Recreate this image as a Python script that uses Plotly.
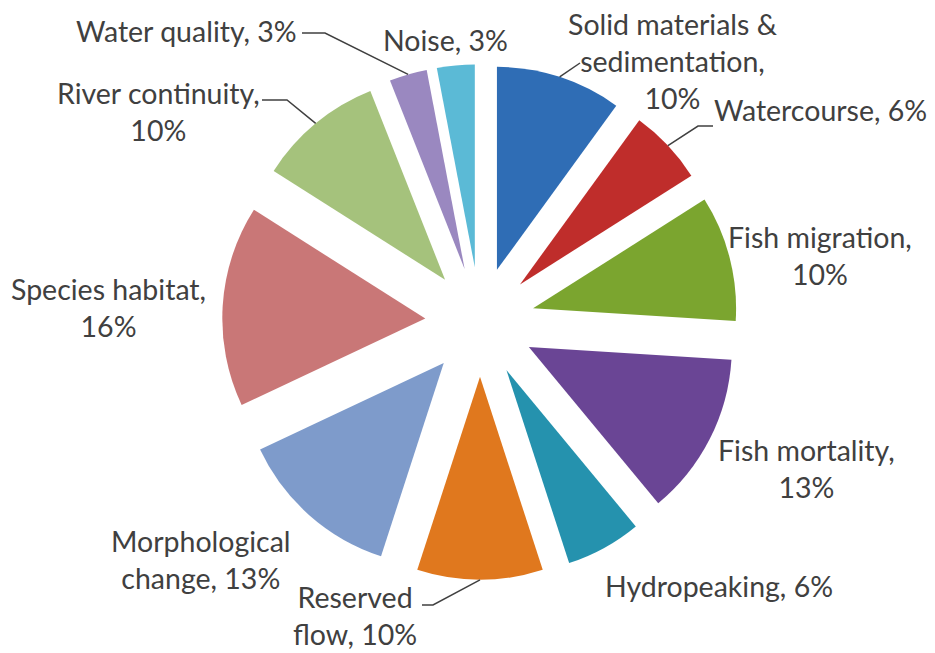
import math
import plotly.graph_objects as go

# Impact categories and their shares (%), clockwise from 12 o'clock
categories = [
    "Solid materials & sedimentation", "Watercourse", "Fish migration",
    "Fish mortality", "Hydropeaking", "Reserved flow", "Morphological change",
    "Species habitat", "River continuity", "Water quality", "Noise",
]
shares = [10, 6, 10, 13, 6, 10, 13, 16, 10, 3, 3]

# Label text (line breaks as laid out on the chart)
label_text = [
    "Solid materials &<br>sedimentation,<br>10%", "Watercourse, 6%",
    "Fish migration,<br>10%", "Fish mortality,<br>13%", "Hydropeaking, 6%",
    "Reserved<br>flow, 10%", "Morphological<br>change, 13%",
    "Species habitat,<br>16%", "River continuity,<br>10%",
    "Water quality, 3%", "Noise, 3%",
]

colors = [
    "#2F6DB5", "#BF2D2B", "#7BA52F", "#6A4595", "#2592AE", "#E0781E",
    "#7E9BCB", "#C97777", "#A5C27C", "#9A88C0", "#5BBAD6",
]

W, H = 935, 653
PULL = 0.27
CX, CY, R = 480.0, 322.0, 203.0      # pie centre and radius in pixels
HALF = R * (1 + PULL)

# label centres in pixels
label_pos = [
    (673, 61), (820, 110), (820, 256), (806, 468), (719, 586), (355, 615),
    (201, 559), (108, 307), (158, 112), (186, 31), (445, 40),
]
# leader lines: slice index -> (start point, elbow point) in pixels
leaders = {
    0: ((580, 63), (580, 63)),
    1: ((713, 126), (698, 126)),
    5: ((422, 605), (433, 605)),
    8: ((262, 100), (287, 100)),
    9: ((302, 33), (325, 33)),
}


def px(x):
    return x / W


def py(y):
    return 1 - y / H


fig = go.Figure(go.Pie(
    labels=categories,
    values=shares,
    sort=False,
    direction="clockwise",
    rotation=0,
    pull=[PULL] * len(shares),
    marker=dict(colors=colors, line=dict(width=0)),
    textinfo="none",
    hoverinfo="label+percent",
    showlegend=False,
    domain=dict(x=[px(CX - HALF), px(CX + HALF)],
                y=[py(CY + HALF), py(CY - HALF)]),
))

font = dict(family="Lato, 'Open Sans', sans-serif", size=28.5, color="#404040")
for text, (x, y) in zip(label_text, label_pos):
    fig.add_annotation(x=px(x), y=py(y), xref="paper", yref="paper",
                       text=text, showarrow=False, align="center",
                       xanchor="center", yanchor="middle", font=font)

# leader lines end at the outer arc midpoint of the pulled slice
total = sum(shares)
cum = 0.0
mids = []
for v in shares:
    mids.append((cum + v / 2) / total * 2 * math.pi)
    cum += v

for i, (start, elbow) in leaders.items():
    a = mids[i]
    ex = CX + HALF * math.sin(a)
    ey = CY - HALF * math.cos(a)
    path = (f"M {px(start[0])},{py(start[1])} L {px(elbow[0])},{py(elbow[1])} "
            f"L {px(ex)},{py(ey)}")
    fig.add_shape(type="path", path=path, xref="paper", yref="paper",
                  line=dict(color="#404040", width=1.5))

fig.update_layout(
    width=W, height=H,
    margin=dict(l=0, r=0, t=0, b=0),
    paper_bgcolor="white", plot_bgcolor="white",
)

fig.write_html("out.html")
